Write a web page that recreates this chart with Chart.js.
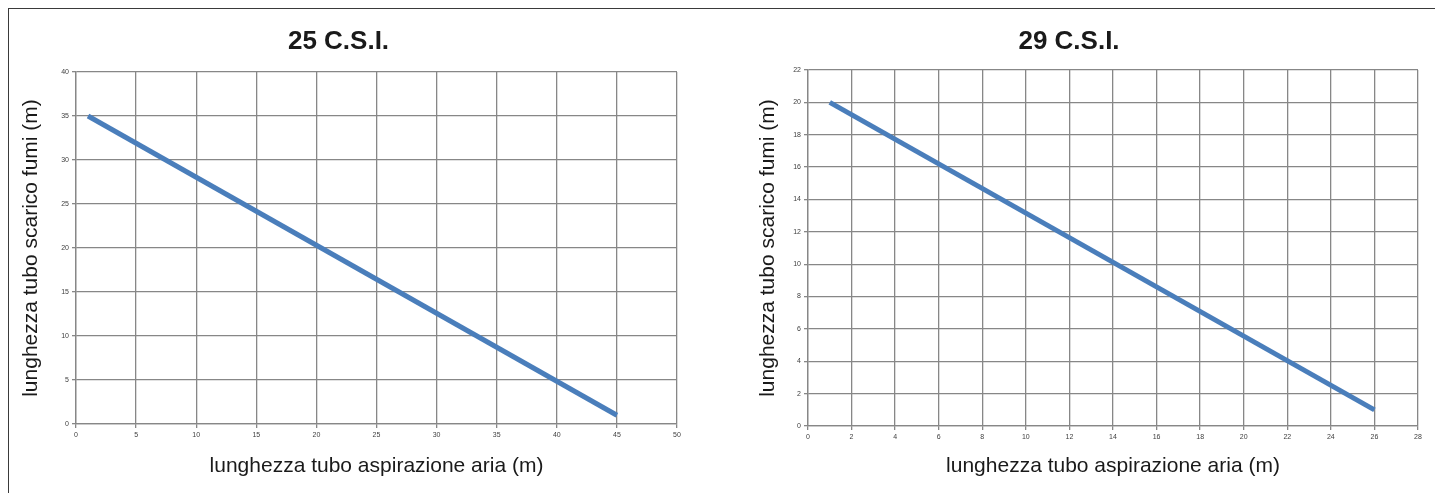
<!DOCTYPE html>
<html>
<head>
<meta charset="utf-8">
<script src="https://cdn.jsdelivr.net/npm/chart.js@4.4.1/dist/chart.umd.min.js"></script>
<style>
  html, body { margin: 0; padding: 0; background: #fff; width: 1435px; height: 493px; overflow: hidden; }
  #frame { position: absolute; left: 8px; top: 8px; width: 1440px; height: 500px;
           border-top: 1px solid #3a3a3a; border-left: 1px solid #3a3a3a; box-sizing: border-box; }
  canvas { position: absolute; top: 0; }
  #c1 { left: 0; }
  #c2 { left: 720px; }
</style>
</head>
<body>
<div id="frame"></div>
<canvas id="c1" width="742" height="493"></canvas>
<canvas id="c2" width="796" height="493"></canvas>
<script>
// ---- data ----
const title1 = '25 C.S.I.';
const title2 = '29 C.S.I.';
const xAxisTitle = 'lunghezza tubo aspirazione aria (m)';
const yAxisTitle = 'lunghezza tubo scarico fumi (m)';

const aria1 = [1, 45];      // x values, chart 1
const fumi1 = [35, 1];      // y values, chart 1
const aria2 = [1, 26];      // x values, chart 2
const fumi2 = [20, 1];      // y values, chart 2

const xRange1 = [0, 50], xStep1 = 5;
const yRange1 = [0, 40], yStep1 = 5;
const xRange2 = [0, 28], xStep2 = 2;
const yRange2 = [0, 22], yStep2 = 2;

// ---- styling ----
const FONT = "'Liberation Sans', Arial, sans-serif";
const GRID = '#878787';
const LINE = '#4a7ebb';

function makeChart(id, title, xs, ys, xr, xs_, yr, ys_, lay) {
  const pts = xs.map((x, i) => ({ x: x, y: ys[i] }));
  const axisCommon = {
    type: 'linear',
    grid: { color: GRID, lineWidth: 1.3, drawTicks: true, tickLength: 4, tickColor: GRID },
    border: { color: GRID, width: 1.3 },
    ticks: { font: { family: FONT, size: 7 }, color: '#404040', padding: 3 }
  };
  return new Chart(document.getElementById(id), {
    type: 'line',
    data: {
      datasets: [{
        data: pts,
        borderColor: LINE,
        borderWidth: 5,
        pointRadius: 0,
        fill: false,
        tension: 0
      }]
    },
    options: {
      responsive: false,
      animation: false,
      devicePixelRatio: 1,
      layout: { padding: { left: 0, right: lay.padRight, top: 0, bottom: 0 } },
      plugins: {
        legend: { display: false },
        tooltip: { enabled: false },
        title: {
          display: true,
          text: title,
          color: '#1a1a1a',
          font: { family: FONT, size: 26, weight: 'bold', lineHeight: 1.2 },
          padding: { top: lay.titleTop, bottom: lay.titleBottom }
        }
      },
      scales: {
        x: Object.assign({}, axisCommon, {
          min: xr[0], max: xr[1],
          ticks: Object.assign({}, axisCommon.ticks, { stepSize: xs_, maxRotation: 0, autoSkip: false }),
          title: { display: true, text: xAxisTitle, color: '#1a1a1a',
                   font: { family: FONT, size: 21, lineHeight: 1.2 }, padding: { top: 0, bottom: lay.xTitleBottom } },
          afterFit: s => { s.height = lay.xHeight; }
        }),
        y: Object.assign({}, axisCommon, {
          min: yr[0], max: yr[1],
          ticks: Object.assign({}, axisCommon.ticks, { stepSize: ys_, autoSkip: false }),
          title: { display: true, text: yAxisTitle, color: '#1a1a1a',
                   font: { family: FONT, size: 21, lineHeight: 1.2 }, padding: { top: lay.yTitleTop, bottom: 0 } },
          afterFit: s => { s.width = lay.yWidth; }
        })
      }
    }
  });
}

makeChart('c1', title1, aria1, fumi1, xRange1, xStep1, yRange1, yStep1,
  { padRight: 65, titleTop: 26.4, titleBottom: 14.4, xHeight: 69, xTitleBottom: 14.4, yWidth: 76, yTitleTop: 18.4 });
makeChart('c2', title2, aria2, fumi2, xRange2, xStep2, yRange2, yStep2,
  { padRight: 98, titleTop: 26.4, titleBottom: 12.4, xHeight: 67, xTitleBottom: 14.4, yWidth: 88, yTitleTop: 35.4 });
</script>
</body>
</html>
